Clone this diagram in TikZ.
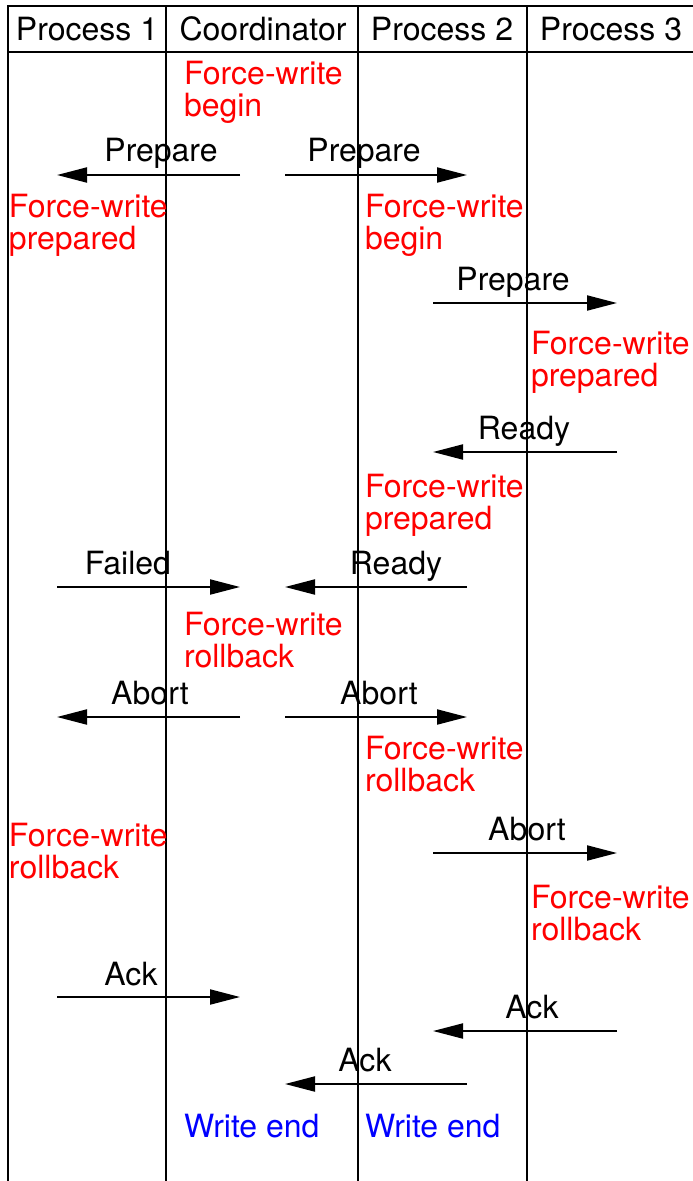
\documentclass[tikz,border=0pt]{standalone}
\usepackage{fontspec}
\setmainfont{TeX Gyre Heros}
\usetikzlibrary{arrows.meta}
\begin{document}
\begin{tikzpicture}[x=1pt,y=-1pt,line width=2pt,
  txt/.style={font=\fontsize{32}{32}\selectfont,inner sep=0pt},
  head/.style={txt,anchor=base},
  lbl/.style={txt,anchor=base},
  note/.style={txt,anchor=base west,align=left,text=red},
  endnote/.style={txt,anchor=base west,text=blue},
  msg/.style={-{Triangle[length=30pt,width=15pt]}},
  frame/.style={line width=2pt}]
\useasboundingbox (0,0) rectangle (693,1181);
% frame and lifelines
\coordinate (tl) at (8,6);
\coordinate (tr) at (693,6);
\coordinate (hl) at (8,52);
\coordinate (hr) at (693,52);
\coordinate (bl) at (8,1181);
\coordinate (l1t) at (166,6);  \coordinate (l1b) at (166,1181);
\coordinate (l2t) at (358,6);  \coordinate (l2b) at (358,1181);
\coordinate (l3t) at (527,6);  \coordinate (l3b) at (527,1181);
\draw[frame] (bl) -- (tl) -- (tr);
\draw[frame] (hl) -- (hr);
\draw[frame] (l1t) -- (l1b);
\draw[frame] (l2t) -- (l2b);
\draw[frame] (l3t) -- (l3b);
% headers
\node[head] (h1) at (87,40) {Process 1};
\node[head] (h2) at (263,40) {Coordinator};
\node[head] (h3) at (442,40) {Process 2};
\node[head] (h4) at (611,40) {Process 3};
% notes (anchor = baseline of the last line)
\node[note] (n1) at (183,116) {Force-write\\begin};
\node[note] (n2) at (8,249) {Force-write\\prepared};
\node[note] (n3) at (364,249) {Force-write\\begin};
\node[note] (n4) at (530,386) {Force-write\\prepared};
\node[note] (n5) at (364,529) {Force-write\\prepared};
\node[note] (n6) at (183,667) {Force-write\\rollback};
\node[note] (n7) at (364,791) {Force-write\\rollback};
\node[note] (n8) at (8,878) {Force-write\\rollback};
\node[note] (n9) at (530,940) {Force-write\\rollback};
\node[endnote] (e1) at (183,1137) {Write end};
\node[endnote] (e2) at (364,1137) {Write end};
% message end points
\coordinate (m1s) at (240,175); \coordinate (m1e) at (57,175);
\coordinate (m2s) at (285,175); \coordinate (m2e) at (467,175);
\coordinate (m3s) at (433,303); \coordinate (m3e) at (617,303);
\coordinate (m4s) at (617,452); \coordinate (m4e) at (433,452);
\coordinate (m5s) at (57,587);  \coordinate (m5e) at (240,587);
\coordinate (m6s) at (467,587); \coordinate (m6e) at (285,587);
\coordinate (m7s) at (240,717); \coordinate (m7e) at (57,717);
\coordinate (m8s) at (285,717); \coordinate (m8e) at (467,717);
\coordinate (m9s) at (433,853); \coordinate (m9e) at (617,853);
\coordinate (m10s) at (57,997); \coordinate (m10e) at (240,997);
\coordinate (m11s) at (617,1031); \coordinate (m11e) at (433,1031);
\coordinate (m12s) at (467,1084); \coordinate (m12e) at (285,1084);
\draw[msg] (m1s) -- (m1e);
\draw[msg] (m2s) -- (m2e);
\draw[msg] (m3s) -- (m3e);
\draw[msg] (m4s) -- (m4e);
\draw[msg] (m5s) -- (m5e);
\draw[msg] (m6s) -- (m6e);
\draw[msg] (m7s) -- (m7e);
\draw[msg] (m8s) -- (m8e);
\draw[msg] (m9s) -- (m9e);
\draw[msg] (m10s) -- (m10e);
\draw[msg] (m11s) -- (m11e);
\draw[msg] (m12s) -- (m12e);
% labels
\node[lbl] (t1) at (161,161) {Prepare};
\node[lbl] (t2) at (364,161) {Prepare};
\node[lbl] (t3) at (513,290) {Prepare};
\node[lbl] (t4) at (524,439) {Ready};
\node[lbl] (t5) at (128,574) {Failed};
\node[lbl] (t6) at (396,574) {Ready};
\node[lbl] (t7) at (150,704) {Abort};
\node[lbl] (t8) at (379,704) {Abort};
\node[lbl] (t9) at (527,840) {Abort};
\node[lbl] (t10) at (131,985) {Ack};
\node[lbl] (t11) at (532,1018) {Ack};
\node[lbl] (t12) at (365,1071) {Ack};
\end{tikzpicture}
\end{document}
